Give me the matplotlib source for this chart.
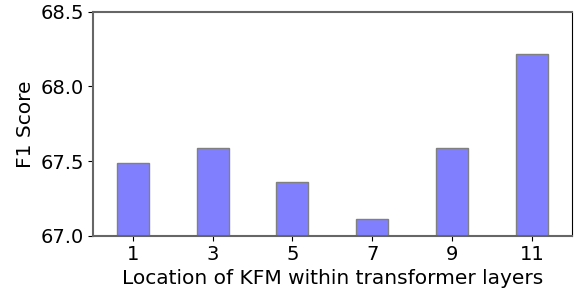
import matplotlib
matplotlib.use("Agg")
import matplotlib.pyplot as plt

layers = [1, 3, 5, 7, 9, 11]
f1_scores = [67.49, 67.59, 67.36, 67.11, 67.59, 68.22]

fig, ax = plt.subplots(figsize=(5.8, 2.93), dpi=100)
fig.subplots_adjust(left=0.16, right=0.986, top=0.96, bottom=0.195)

ax.bar(layers, f1_scores, width=0.8, color="#8080ff", edgecolor="gray", linewidth=1)
ax.set_ylim(67.0, 68.5)
ax.set_xlim(0, 12)
ax.set_xticks(layers)
ax.set_yticks([67.0, 67.5, 68.0, 68.5])
ax.set_yticklabels(["67.0", "67.5", "68.0", "68.5"])
ax.tick_params(labelsize=14, pad=3)
ax.set_xlabel("Location of KFM within transformer layers", fontsize=14.5, labelpad=4)
ax.set_ylabel("F1 Score", fontsize=14.5, labelpad=4)

for side in ["left", "bottom", "top"]:
    ax.spines[side].set_color("#666666")
    ax.spines[side].set_linewidth(1.5)
ax.spines["right"].set_color("black")
ax.spines["right"].set_linewidth(0.8)

plt.savefig("out.png", dpi=100)
